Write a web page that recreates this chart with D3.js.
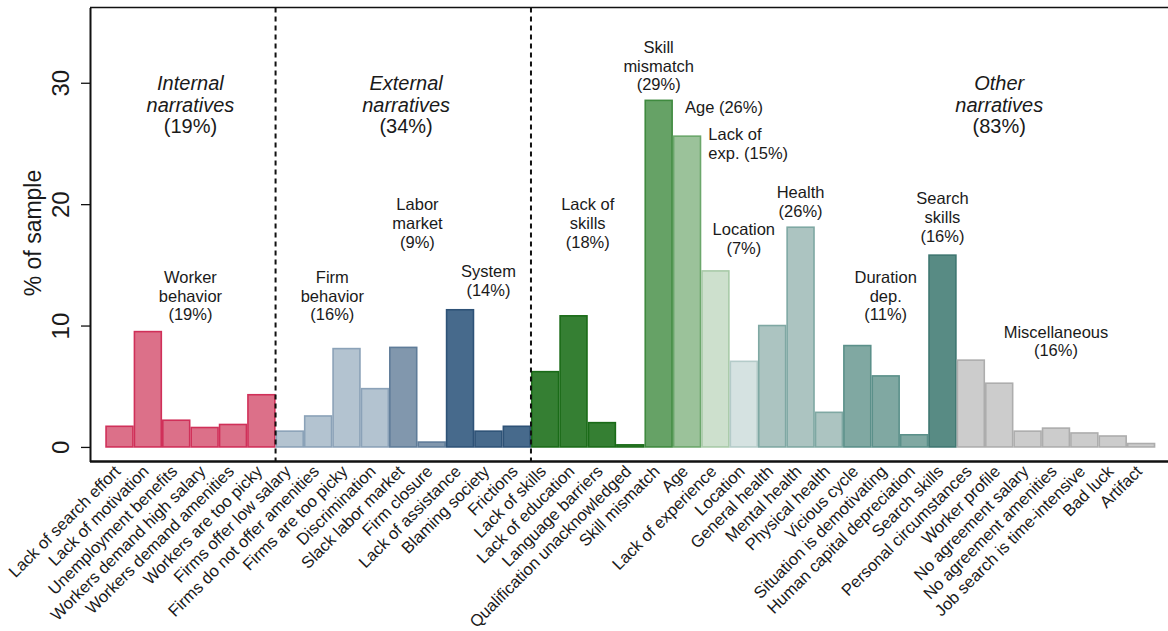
<!DOCTYPE html>
<html>
<head>
<meta charset="utf-8">
<script src="https://cdn.jsdelivr.net/npm/d3@7"></script>
<style>
  body { margin: 0; background: #fff; }
  svg { display: block; font-family: "Liberation Sans", Arial, sans-serif; }
  text { fill: #1a1a1a; }
</style>
</head>
<body>
<svg width="1168" height="631"></svg>
<script>
const categories = [
  "Lack of search effort", "Lack of motivation", "Unemployment benefits",
  "Workers demand high salary", "Workers demand amenities", "Workers are too picky",
  "Firms offer low salary", "Firms do not offer amenities", "Firms are too picky",
  "Discrimination", "Slack labor market", "Firm closure", "Lack of assistance",
  "Blaming society", "Frictions", "Lack of skills", "Lack of education",
  "Language barriers", "Qualification unacknowledged", "Skill mismatch", "Age",
  "Lack of experience", "Location", "General health", "Mental health",
  "Physical health", "Vicious cycle", "Situation is demotivating",
  "Human capital depreciation", "Search skills", "Personal circumstances",
  "Worker profile", "No agreement salary", "No agreement amenities",
  "Job search is time-intensive", "Bad luck", "Artifact"
];

const shares = [
  1.7, 9.5, 2.2, 1.6, 1.85, 4.3,
  1.3, 2.55, 8.1, 4.8, 8.2, 0.4, 11.3, 1.3, 1.7,
  6.2, 10.8, 2.0, 0.17, 28.55, 25.6, 14.5, 7.05,
  10.0, 18.1, 2.85, 8.35, 5.85, 1.0, 15.8,
  7.15, 5.25, 1.3, 1.55, 1.15, 0.9, 0.28
];

// sub-narrative of each bar (index into subgroups)
const subgroupOf = [
  0, 0, 0, 0, 0, 0,
  1, 1, 1, 1, 2, 2, 3, 3, 3,
  4, 4, 4, 4, 5, 6, 7, 8,
  9, 9, 9, 10, 10, 10, 11,
  12, 12, 12, 12, 12, 12, 12
];

const subgroups = [
  ["Worker", "behavior", "(19%)"],
  ["Firm", "behavior", "(16%)"],
  ["Labor", "market", "(9%)"],
  ["System", "(14%)"],
  ["Lack of", "skills", "(18%)"],
  ["Skill", "mismatch", "(29%)"],
  ["Age (26%)"],
  ["Lack of", "exp. (15%)"],
  ["Location", "(7%)"],
  ["Health", "(26%)"],
  ["Duration", "dep.", "(11%)"],
  ["Search", "skills", "(16%)"],
  ["Miscellaneous", "(16%)"]
];

const groups = [
  ["Internal", "narratives", "(19%)"],
  ["External", "narratives", "(34%)"],
  ["Other", "narratives", "(83%)"]
];

const yTicks = [0, 10, 20, 30];

// styling / placement (bar index units, value units)
const subFill = ["#dc7089", "#b3c3d0", "#8197ad", "#476a8c", "#357f33", "#66a266",
  "#9bc29a", "#cde0cd", "#d5e2e1", "#acc4c1", "#80a8a2", "#588b84", "#cccccc"];
const subStroke = ["#d03059", "#8ba2b8", "#5f7c99", "#2e5277", "#1a6b18", "#3f8a3f",
  "#6ba76b", "#a8caa8", "#b4cbc9", "#7fa8a3", "#5b908a", "#3e7670", "#adadad"];
const subPos = [[2.5, 13.5], [7.5, 13.5], [10.5, 19.5], [13, 14.0], [16.5, 19.5],
  [19, 32.45], [21.3, 27.5], [20.75, 25.3, "start"], [22, 17.45], [24, 20.5],
  [27, 13.5], [29, 20.0], [33, 9.0]];
const groupPos = [[2.5, 29.4], [10.1, 29.4], [31, 29.4]];
const dividers = [6, 15];

const plot = { left: 90, right: 1168, top: 7.5, bottom: 461.5 };

const svg = d3.select("svg");

const x = d3.scaleBand()
  .domain(categories)
  .range([105.3, 1155.3])
  .padding(0);

const y = d3.scaleLinear()
  .domain([-1.2, 36.2])
  .range([plot.bottom, plot.top]);

const bw = x.bandwidth();
const xAt = i => x.range()[0] + (i + 0.5) * bw;

// bars
svg.append("g")
  .selectAll("rect")
  .data(categories)
  .join("rect")
  .attr("x", d => x(d) + 0.75)
  .attr("width", bw - 1.5)
  .attr("y", (d, i) => y(shares[i]))
  .attr("height", (d, i) => y(0) - y(shares[i]))
  .attr("fill", (d, i) => subFill[subgroupOf[i]])
  .attr("stroke", (d, i) => subStroke[subgroupOf[i]])
  .attr("stroke-width", 1.6);

// dashed dividers
svg.append("g")
  .selectAll("line")
  .data(dividers)
  .join("line")
  .attr("x1", d => x(categories[d]))
  .attr("x2", d => x(categories[d]))
  .attr("y1", plot.top)
  .attr("y2", plot.bottom)
  .attr("stroke", "#111")
  .attr("stroke-width", 2)
  .attr("stroke-dasharray", "5,4");

// frame
svg.append("line")
  .attr("x1", plot.left).attr("x2", plot.right)
  .attr("y1", plot.top).attr("y2", plot.top)
  .attr("stroke", "#111").attr("stroke-width", 1.5);
svg.append("line")
  .attr("x1", plot.left).attr("x2", plot.right)
  .attr("y1", plot.bottom).attr("y2", plot.bottom)
  .attr("stroke", "#111").attr("stroke-width", 2.5);

// y axis
svg.append("g")
  .attr("transform", `translate(${plot.left},0)`)
  .call(d3.axisLeft(y).tickValues(yTicks).tickSize(9).tickSizeOuter(0))
  .call(g => g.select(".domain").attr("stroke", "#111").attr("stroke-width", 2))
  .call(g => g.selectAll(".tick line").attr("stroke", "#111").attr("stroke-width", 1.3))
  .call(g => g.selectAll(".tick text")
    .attr("x", null).attr("dy", null)
    .attr("transform", "translate(-21,0) rotate(-90)")
    .attr("text-anchor", "middle")
    .attr("font-size", 24)
    .style("font-family", "Liberation Sans, Arial, sans-serif")
    .attr("fill", "#1a1a1a"));

svg.append("text")
  .attr("transform", "translate(41,233) rotate(-90)")
  .attr("text-anchor", "middle")
  .attr("font-size", 23)
  .text("% of sample");

// x labels
svg.append("g")
  .selectAll("text")
  .data(categories)
  .join("text")
  .attr("transform", d => `translate(${x(d) + bw / 2 + 2},${plot.bottom + 11}) rotate(-45)`)
  .attr("text-anchor", "end")
  .attr("font-size", 16.6)
  .text(d => d);

// sub-narrative labels
subgroups.forEach((lines, k) => {
  const p = subPos[k];
  const t = svg.append("text")
    .attr("text-anchor", p[2] || "middle")
    .attr("font-size", 16.5);
  lines.forEach((ln, j) => {
    t.append("tspan")
      .attr("x", xAt(p[0]))
      .attr("y", y(p[1]) + j * 18.7)
      .text(ln);
  });
});

// narrative group titles
groups.forEach((lines, k) => {
  const p = groupPos[k];
  const t = svg.append("text")
    .attr("text-anchor", "middle")
    .attr("font-size", 20);
  lines.forEach((ln, j) => {
    t.append("tspan")
      .attr("x", xAt(p[0]))
      .attr("y", y(p[1]) + j * 21.5)
      .attr("font-style", j < 2 ? "italic" : "normal")
      .text(ln);
  });
});
</script>
</body>
</html>
